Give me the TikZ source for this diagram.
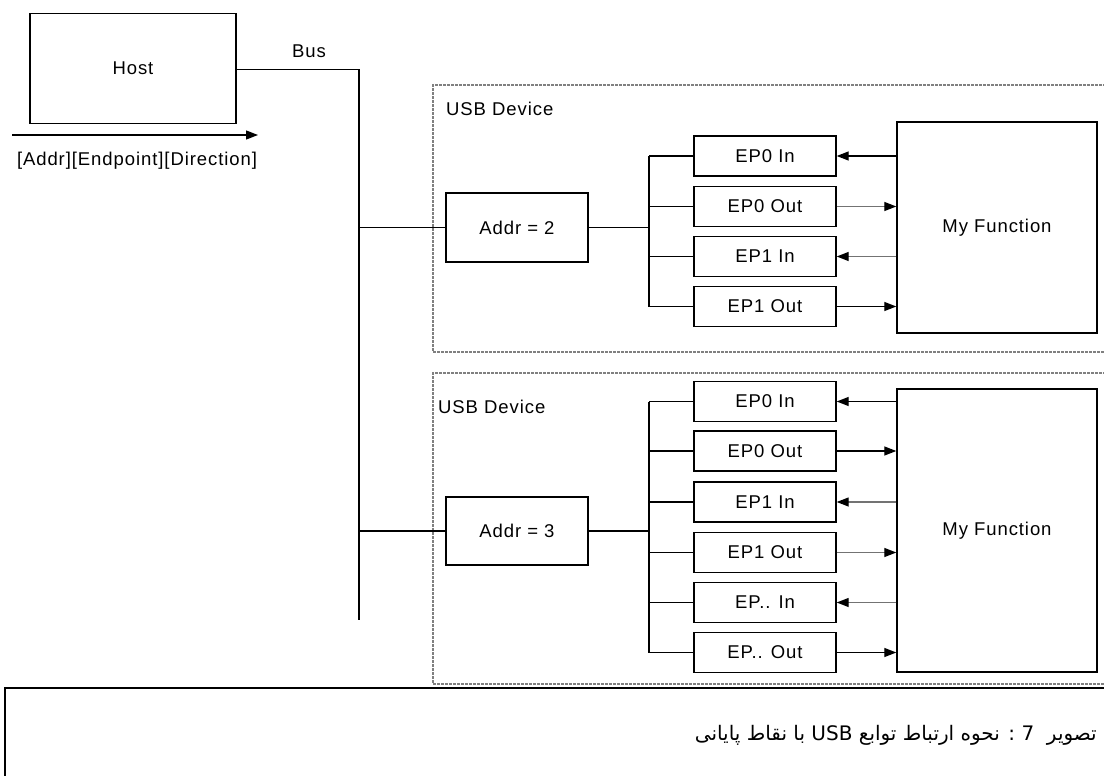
\documentclass[tikz,border=0pt]{standalone}
\usepackage{fontspec}
\setmainfont{Liberation Sans}[LetterSpace=5]
\newfontfamily\arabicfont[Script=Arabic]{DejaVu Sans}
\TeXXeTstate=1
\usetikzlibrary{arrows.meta}
\begin{document}
\begin{tikzpicture}[x=1pt,y=-1pt,
  every node/.style={font=\fontsize{18.5}{22}\selectfont, inner sep=0pt},
  box/.style={draw, line width=1.4pt, anchor=center},
  epbox/.style={box, minimum width=142pt, minimum height=40pt},
  wire/.style={line width=1.3pt},
  arr/.style={line width=1.3pt, -{Triangle[length=12pt,width=9pt]}},
  garr/.style={arr, draw=black!55, -{Triangle[length=12pt,width=9pt,fill=black,color=black]}},
  devbox/.style={draw=black!50, line width=1.6pt, dash pattern=on 3pt off 1pt}
]
\useasboundingbox (0,0) rectangle (1104,776);

% host
\node[box, minimum width=206pt, minimum height=110pt] (host) at (133,68.5) {Host};
\node (bus) at (309,51) {Bus};
\coordinate (bc) at (359,69.5);
\coordinate (be) at (359,620);
\draw[wire] (host.east |- bc) -- (bc) -- (be);

\coordinate (as) at (12,135);
\coordinate (ae) at (258,135);
\draw[arr] (as) -- (ae);
\node (lab) at (137,161) {[Addr][Endpoint][Direction]};

% device 1
\draw[devbox] (1110,85) -- (433,85) -- (433,352) -- (1110,352);
\node[anchor=west] (dev1) at (446,109) {USB Device};
\node[box, minimum width=142pt, minimum height=69pt] (addr2) at (517,227.5) {Addr = 2};
\draw[wire] (addr2.west -| bc) -- (addr2.west);
\coordinate (j1) at (649,227.5);
\draw[wire] (addr2.east) -- (j1);
\node[epbox] (e10) at (765,156) {EP0 In};
\node[epbox] (e11) at (765,206.5) {EP0 Out};
\node[epbox] (e12) at (765,256.5) {EP1 In};
\node[epbox] (e13) at (765,306.5) {EP1 Out};
\draw[wire] (e10.west -| j1) -- (e13.west -| j1);
\foreach \e in {e10,e11,e12,e13} \draw[wire] (\e.west -| j1) -- (\e.west);
\node[box, minimum width=200pt, minimum height=211pt] (f1) at (997,227.5) {My Function};
\draw[arr] (f1.west |- e10.east) -- (e10.east);
\draw[garr] (e11.east) -- (f1.west |- e11.east);
\draw[garr] (f1.west |- e12.east) -- (e12.east);
\draw[arr] (e13.east) -- (f1.west |- e13.east);

% device 2
\draw[devbox] (1110,373) -- (433,373) -- (433,684) -- (1110,684);
\node[anchor=west] (dev2) at (438,407) {USB Device};
\node[box, minimum width=142pt, minimum height=68pt] (addr3) at (517,531) {Addr = 3};
\draw[wire] (addr3.west -| bc) -- (addr3.west);
\coordinate (j2) at (649,531);
\draw[wire] (addr3.east) -- (j2);
\node[epbox] (e20) at (765,401.5) {EP0 In};
\node[epbox] (e21) at (765,451) {EP0 Out};
\node[epbox] (e22) at (765,502) {EP1 In};
\node[epbox] (e23) at (765,552.5) {EP1 Out};
\node[epbox] (e24) at (765,602.5) {EP.. In};
\node[epbox] (e25) at (765,652.5) {EP.. Out};
\draw[wire] (e20.west -| j2) -- (e25.west -| j2);
\foreach \e in {e20,e21,e22,e23,e24,e25} \draw[wire] (\e.west -| j2) -- (\e.west);
\node[box, minimum width=200pt, minimum height=283pt] (f2) at (997,530.5) {My Function};
\draw[arr] (f2.west |- e20.east) -- (e20.east);
\draw[arr] (e21.east) -- (f2.west |- e21.east);
\draw[garr] (f2.west |- e22.east) -- (e22.east);
\draw[garr] (e23.east) -- (f2.west |- e23.east);
\draw[garr] (f2.west |- e24.east) -- (e24.east);
\draw[arr] (e25.east) -- (f2.west |- e25.east);

% caption frame
\draw[line width=2.6pt] (1110,688) -- (5,688) -- (5,790);
\node[anchor=east] (cap) at (1097,735) {\arabicfont\fontsize{20}{24}\selectfont\beginR تصویر\ \ 7 : نحوه ارتباط توابع USB با نقاط پایانی\endR};
\end{tikzpicture}
\end{document}
